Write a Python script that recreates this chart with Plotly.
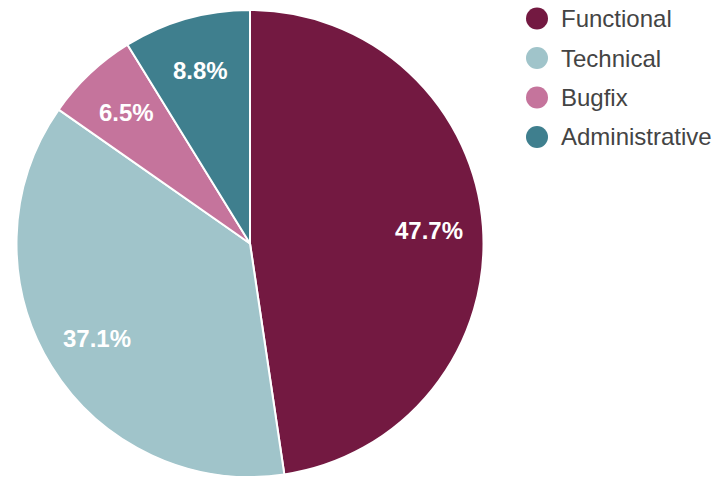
import math
import plotly.graph_objects as go

# Share of work items by category (percent)
categories = ["Functional", "Technical", "Bugfix", "Administrative"]
shares = [47.7, 37.1, 6.5, 8.8]
colors = ["#731941", "#a0c4ca", "#c5749c", "#3f7f8e"]

W, H = 721, 479
pie_x = [15 / W, 485 / W]
pie_y = [1 - 477 / H, 1 - 10 / H]

fig = go.Figure(
    go.Pie(
        labels=categories,
        values=shares,
        marker=dict(colors=colors, line=dict(color="white", width=2)),
        sort=False,
        direction="clockwise",
        rotation=0,
        textinfo="none",
        showlegend=False,
        hoverinfo="label+percent",
        domain=dict(x=pie_x, y=pie_y),
    )
)

shapes, annotations = [], []

# Percentage labels placed along each slice's bisector, at ~77% of the radius
cx = (pie_x[0] + pie_x[1]) / 2 * W
cy = (1 - (pie_y[0] + pie_y[1]) / 2) * H
radius = min((pie_x[1] - pie_x[0]) * W, (pie_y[1] - pie_y[0]) * H) / 2
total = sum(shares)
start = 0.0
for v in shares:
    mid = (start + v / 2) / total * 2 * math.pi
    start += v
    px = cx + 0.77 * radius * math.sin(mid)
    py = cy - 0.77 * radius * math.cos(mid)
    annotations.append(dict(
        text=f"{v}%", xref="paper", yref="paper",
        x=px / W, y=1 - py / H, xanchor="center", yanchor="middle",
        showarrow=False,
        font=dict(family="Liberation Sans, Arial", size=24, color="white", weight="bold"),
    ))

# Custom legend: round swatch plus label per category
r = 11
lx, ly0, step = 537, 18.5, 39.5
for i, (name, col) in enumerate(zip(categories, colors)):
    ry = ly0 + i * step
    shapes.append(dict(
        type="circle", xref="paper", yref="paper",
        x0=(lx - r) / W, x1=(lx + r) / W,
        y0=1 - (ry + r) / H, y1=1 - (ry - r) / H,
        fillcolor=col, line=dict(width=0),
    ))
    annotations.append(dict(
        text=name, xref="paper", yref="paper",
        x=559 / W, y=1 - ry / H, xanchor="left", yanchor="middle",
        showarrow=False,
        font=dict(family="Liberation Sans, Arial", size=24, color="#444444"),
    ))

fig.update_layout(
    width=W, height=H,
    margin=dict(l=0, r=0, t=0, b=0),
    paper_bgcolor="white",
    plot_bgcolor="white",
    shapes=shapes,
    annotations=annotations,
)

fig.write_html("out.html")
